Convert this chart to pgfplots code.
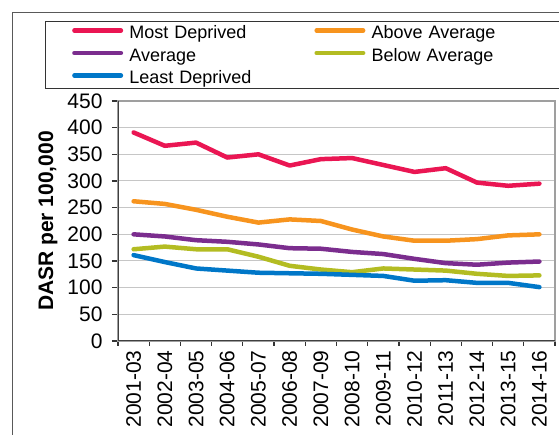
\documentclass[border=0pt]{standalone}
\usepackage{fontspec}
\setmainfont{Liberation Sans}
\usepackage{pgfplots}
\pgfplotsset{compat=1.18}

\definecolor{mostdep}{HTML}{EA1653}
\definecolor{aboveavg}{HTML}{F7941E}
\definecolor{avgcol}{HTML}{7B2D8E}
\definecolor{belowavg}{HTML}{B3BC22}
\definecolor{leastdep}{HTML}{0077C8}

\begin{document}
\begin{tikzpicture}
\useasboundingbox (0pt,0pt) rectangle (559pt,435pt);
\clip (0pt,0pt) rectangle (559pt,435pt);
% outer chart frame and legend frame (both run off the cropped picture)
\draw[gray!70!black, line width=0.8pt] (12pt,-20pt) rectangle (620pt,423pt);
\draw[black!80, line width=0.8pt] (45.7pt,347pt) rectangle (620pt,414pt);
\begin{axis}[
    at={(118pt,94pt)}, anchor=south west,
    scale only axis, width=437pt, height=240pt,
    xmin=-0.5, xmax=13.5, ymin=0, ymax=450,
    xtick={0,...,13},
    xticklabels={2001-03,2002-04,2003-05,2004-06,2005-07,2006-08,2007-09,
                 2008-10,2009-11,2010-12,2011-13,2012-14,2013-15,2014-16},
    x tick label style={rotate=90, anchor=east},
    major x tick style={draw=none},
    minor xtick={-0.5,0.5,...,13.5},
    minor x tick style={black!80, line width=1.2pt},
    minor tick length=5pt,
    ytick={0,50,...,450},
    y tick style={black!80, line width=1.2pt},
    major tick length=6pt,
    tick align=outside, tick pos=left,
    yticklabel style={xshift=-6pt},
    ymajorgrids, major grid style={draw=gray!45, line width=1pt},
    axis line style={draw=gray!75, line width=1.6pt},
    ticklabel style={font=\fontsize{21}{25}\selectfont},
    /pgf/number format/assume math mode=true,
    ylabel={\bfseries DASR per 100,000},
    every axis y label/.style={at={(axis description cs:-0.1487,0.5)}, rotate=90, anchor=base,
        font=\fontsize{21}{25}\selectfont},
    legend columns=2,
    legend style={draw=none, fill=none, inner sep=0pt, anchor=north west,
        at={(axis description cs:-0.1053,1.3188)},
        font=\fontsize{18}{20}\selectfont,
        nodes={inner sep=0pt, text height=14pt, text depth=4pt},
        row sep=4.5pt,
        /tikz/every odd column/.append style={column sep=6.25pt},
        /tikz/every even column/.append style={text width=185pt}},
    legend cell align=left,
    legend image code/.code={\draw[#1, line width=4.5pt, line cap=round] (2.25pt,0.6ex) -- (48.75pt,0.6ex);},
    every axis plot/.append style={line width=4.5pt, line join=round, line cap=round},
]
% Most Deprived
\addplot[mostdep] coordinates {(0,391) (1,366) (2,372) (3,344) (4,350) (5,329) (6,341) (7,343) (8,330) (9,317) (10,324) (11,297) (12,291) (13,295)};
% Above Average
\addplot[aboveavg] coordinates {(0,262) (1,257) (2,246) (3,233) (4,222) (5,228) (6,225) (7,209) (8,196) (9,188) (10,188) (11,191) (12,198) (13,200)};
% Average
\addplot[avgcol] coordinates {(0,200) (1,196) (2,189) (3,186) (4,181) (5,174) (6,173) (7,167) (8,163) (9,154) (10,146) (11,143) (12,147) (13,149)};
% Below Average
\addplot[belowavg] coordinates {(0,172) (1,177) (2,172) (3,172) (4,158) (5,141) (6,134) (7,129) (8,136) (9,134) (10,132) (11,126) (12,122) (13,123)};
% Least Deprived
\addplot[leastdep] coordinates {(0,161) (1,148) (2,136) (3,132) (4,128) (5,127) (6,126) (7,124) (8,122) (9,113) (10,114) (11,109) (12,109) (13,101)};
\legend{Most Deprived, Above Average, Average, Below Average, Least Deprived}
% darker left and bottom axis lines
\draw[black!75, line width=1.6pt] (rel axis cs:0,1) -- (rel axis cs:0,0) -- (rel axis cs:1,0);
\end{axis}
\end{tikzpicture}
\end{document}
